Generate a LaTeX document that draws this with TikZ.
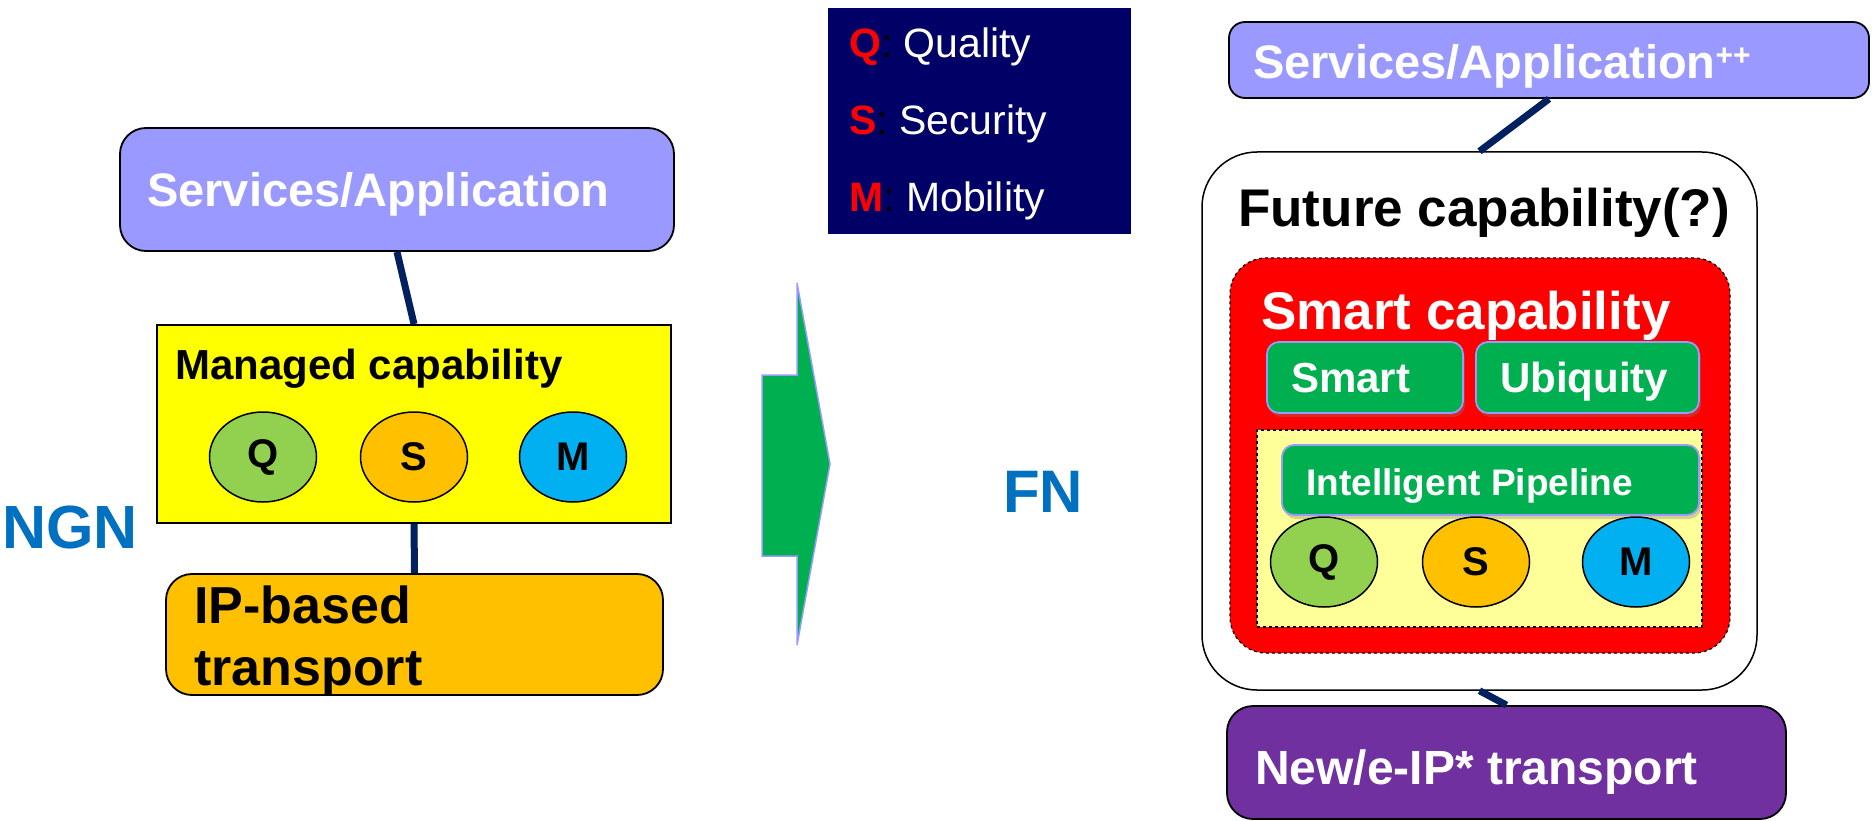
\documentclass[tikz,border=0pt]{standalone}
\usepackage{fontspec}
\setmainfont{Liberation Sans}
\usetikzlibrary{shapes.geometric,shadows}
\definecolor{lav}{HTML}{9999FF}
\definecolor{ylw}{HTML}{FFFF00}
\definecolor{paleylw}{HTML}{FFFF99}
\definecolor{qgreen}{HTML}{92D050}
\definecolor{sorange}{HTML}{FFC000}
\definecolor{mblue}{HTML}{00B0F0}
\definecolor{ngnblue}{HTML}{0070C0}
\definecolor{navybg}{HTML}{000066}
\definecolor{arrowgreen}{HTML}{00B050}
\definecolor{purp}{HTML}{7030A0}
\definecolor{linkblue}{HTML}{002060}
\newcommand\setfs[1]{\fontsize{#1}{#1}\selectfont}
\begin{document}
\begin{tikzpicture}[x=1pt,y=-1pt,
  box/.style={draw=black, line width=1.8pt, inner sep=0pt},
  lbl/.style={anchor=base west, inner sep=0pt, font=\bfseries},
  link/.style={draw=linkblue, line width=7pt},
  capell/.style={ellipse, draw=black, line width=1.5pt, minimum width=107pt,
    minimum height=90pt, inner sep=0pt, font=\setfs{40}\bfseries},
  greenbox/.style={draw=lav, line width=1.8pt, fill=arrowgreen, inner sep=0pt,
    rounded corners=12pt,
    drop shadow={opacity=0.35, shadow xshift=2pt, shadow yshift=-4pt}},
  legrow/.style={anchor=base west, inner sep=0pt, font=\setfs{41}, text=white}
]
\useasboundingbox (0,0) rectangle (1872,821);

% ---------------- NGN side ----------------
\node[box, fill=lav, rounded corners=26pt, minimum width=554pt, minimum height=123pt]
  (svcL) at (397,189.5) {};
\node[lbl, text=white, font=\setfs{47}\bfseries] (svcLt) at (147,207) {Services/Application};

\node[box, fill=ylw, minimum width=514pt, minimum height=198pt] (mcap) at (414,424) {};
\node[lbl, font=\setfs{42}\bfseries] (mcapt) at (175,379) {Managed capability};
\node[capell, fill=qgreen] (qL) at (263,457) {Q};
\node[capell, fill=sorange] (sL) at (414,457) {S};
\node[capell, fill=mblue] (mL) at (573,457) {M};

\node[box, fill=sorange, rounded corners=26pt, minimum width=497pt, minimum height=121pt]
  (ip) at (414.5,634.5) {};
\node[lbl, font=\setfs{52}\bfseries] (ipt1) at (194,623) {IP-based};
\node[lbl, font=\setfs{52}\bfseries] (ipt2) at (194,685) {transport};

\draw[link] (svcL.south) -- (mcap.north);
\draw[link] (mcap.south) -- (ip.north);

\node[lbl, text=ngnblue, font=\setfs{61}\bfseries] (ngn) at (2,548) {NGN};

% ---------------- legend ----------------
\node[fill=navybg, inner sep=0pt, minimum width=303pt, minimum height=226pt] (legend) at (979.5,121) {};
\node[legrow] (legq) at (849,58) {{\color{red}\bfseries Q}{\color{black}:} Quality};
\node[legrow] (legs) at (849,135) {{\color{red}\bfseries S}{\color{black}:} Security};
\node[legrow] (legm) at (849,212) {{\color{red}\bfseries M}{\color{black}:} Mobility};

% ---------------- transition arrow ----------------
\draw[fill=arrowgreen, draw=lav, line width=1.5pt, line join=miter]
  (762,375) -- (797,375) -- (797,283) -- (830,464) -- (797,645) -- (797,556) -- (762,556) -- cycle;

\node[lbl, text=ngnblue, font=\setfs{60}\bfseries] (fn) at (1003,512) {FN};

% ---------------- FN side ----------------
\node[box, fill=lav, rounded corners=16pt, minimum width=640pt, minimum height=76pt]
  (svcR) at (1549,60) {};
\node[lbl, text=white, font=\setfs{47}\bfseries] (svcRt) at (1253,79)
  {Services/Application\raisebox{13pt}{\setfs{30}\bfseries ++}};

\node[box, fill=white, line width=1.5pt, rounded corners=55pt, minimum width=555pt, minimum height=538pt]
  (future) at (1479.5,421) {};
\node[lbl, font=\setfs{53}\bfseries] (futuret) at (1238,227) {Future capability(?)};

\node[box, fill=red, dashed, line width=1.2pt, rounded corners=36pt, minimum width=500pt, minimum height=395pt]
  (smartcap) at (1480,455.5) {};
\node[lbl, text=white, font=\setfs{53}\bfseries] (smartcapt) at (1261,329) {Smart capability};

\node[greenbox, minimum width=196pt, minimum height=71pt] (smart) at (1365,377.5) {};
\node[lbl, text=white, font=\setfs{42}\bfseries] (smartt) at (1291,392) {Smart};
\node[greenbox, minimum width=223pt, minimum height=71pt] (ubiq) at (1587.5,377.5) {};
\node[lbl, text=white, font=\setfs{42}\bfseries] (ubiqt) at (1500,392) {Ubiquity};

\node[box, fill=paleylw, dashed, line width=1.2pt, minimum width=445pt, minimum height=197pt]
  (pale) at (1479.5,528.5) {};
\node[greenbox, minimum width=417pt, minimum height=70pt] (pipe) at (1490.5,480) {};
\node[lbl, text=white, font=\setfs{37}\bfseries] (pipet) at (1306,495) {Intelligent Pipeline};

\node[capell, fill=qgreen] (qR) at (1324,562) {Q};
\node[capell, fill=sorange] (sR) at (1476,562) {S};
\node[capell, fill=mblue] (mR) at (1636,562) {M};

\node[box, fill=purp, rounded corners=26pt, minimum width=559pt, minimum height=113pt]
  (newt) at (1506.5,762.5) {};
\node[lbl, text=white, font=\setfs{48}\bfseries] (newtt) at (1255,784) {New/e-IP* transport};

\draw[link] (svcR.south) -- (future.north);
\draw[link] (future.south) -- (newt.north);
\end{tikzpicture}
\end{document}
